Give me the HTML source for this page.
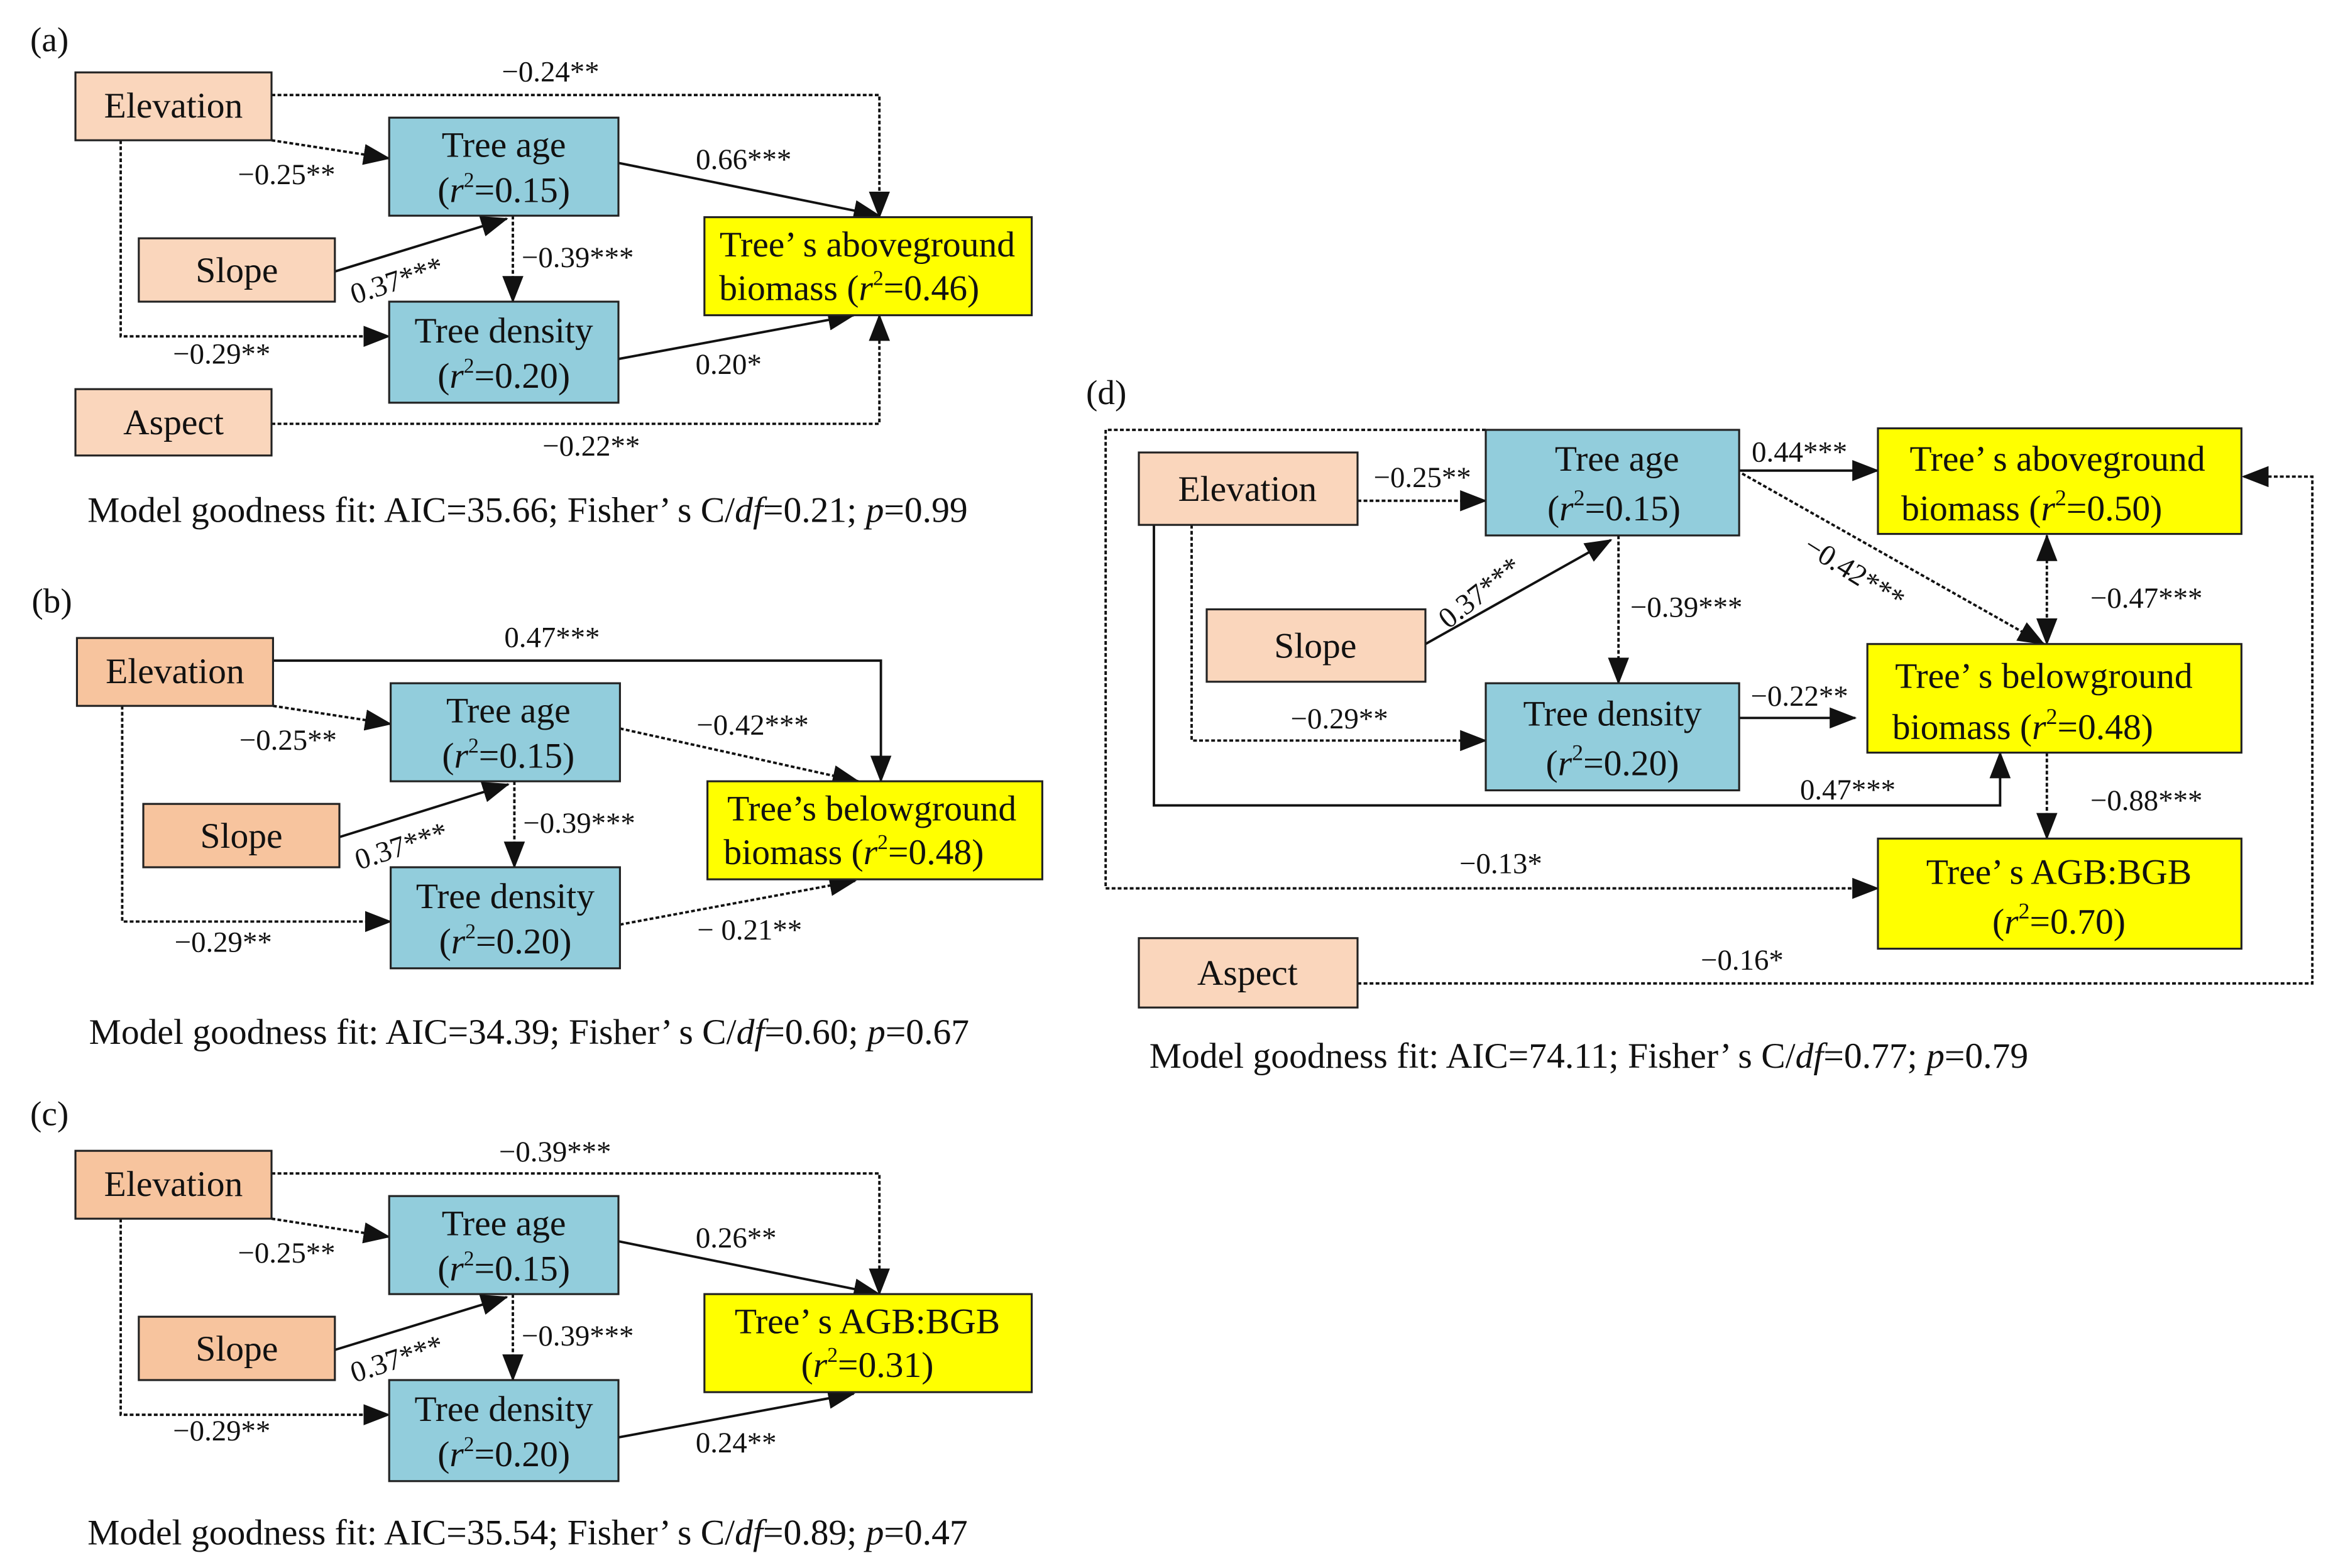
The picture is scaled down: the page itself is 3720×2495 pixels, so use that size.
<!DOCTYPE html>
<html><head><meta charset="utf-8"><style>
html,body{margin:0;padding:0;background:#fff;}
svg{display:block;}
text{font-family:"Liberation Serif",serif;fill:#111;}
.n{font-size:24px;text-anchor:middle;}
.l{font-size:19.5px;text-anchor:middle;}
.c{font-size:24px;}
.p{font-size:23px;}
.s{stroke:#111;stroke-width:1.6;fill:none;}
.d{stroke:#111;stroke-width:1.6;fill:none;stroke-dasharray:2.5 1.5;}
.b{stroke:#222;stroke-width:1.3;}
</style></head><body>
<svg width="3720" height="2495" viewBox="0 0 1550 1039.6" xmlns="http://www.w3.org/2000/svg">
<defs>
<marker id="a" markerUnits="userSpaceOnUse" markerWidth="18" markerHeight="14" refX="17" refY="7" orient="auto"><path d="M0,0 L18,7 L0,14 z" fill="#111"/></marker>
<marker id="s" markerUnits="userSpaceOnUse" markerWidth="18" markerHeight="14" refX="17" refY="7" orient="auto-start-reverse"><path d="M0,0 L18,7 L0,14 z" fill="#111"/></marker>
</defs>

<!-- Panel a -->
<text class="p" x="20" y="34">(a)</text>
<path class="d" d="M180,63 H583 V144" marker-end="url(#a)"/>
<path class="d" d="M180,93 L258,105" marker-end="url(#a)"/>
<path class="d" d="M80,93 V223 H258" marker-end="url(#a)"/>
<path class="s" d="M222,180 L336,145" marker-end="url(#a)"/>
<path class="d" d="M340,143 V200" marker-end="url(#a)"/>
<path class="s" d="M410,108 L583,143" marker-end="url(#a)"/>
<path class="s" d="M410,238 L566,209" marker-end="url(#a)"/>
<path class="d" d="M180,281 H583 V209" marker-end="url(#a)"/>
<rect class="b" x="50" y="48" width="130" height="45" fill="#fad6bc"/><text class="n" x="115" y="78">Elevation</text>
<rect class="b" x="258" y="78" width="152" height="65" fill="#92cddc"/><text class="n" x="334" y="104">Tree age</text><text class="n" x="334" y="134">(<tspan font-style="italic">r</tspan><tspan font-size="14" dy="-10">2</tspan><tspan dy="10">=0.15)</tspan></text>
<rect class="b" x="92" y="158" width="130" height="42" fill="#fad6bc"/><text class="n" x="157" y="187">Slope</text>
<rect class="b" x="258" y="200" width="152" height="67" fill="#92cddc"/><text class="n" x="334" y="227">Tree density</text><text class="n" x="334" y="257">(<tspan font-style="italic">r</tspan><tspan font-size="14" dy="-10">2</tspan><tspan dy="10">=0.20)</tspan></text>
<rect class="b" x="467" y="144" width="217" height="65" fill="#ffff00"/><text class="n" x="575" y="170">Tree’ s aboveground</text><text class="n" x="563" y="199">biomass (<tspan font-style="italic">r</tspan><tspan font-size="14" dy="-10">2</tspan><tspan dy="10">=0.46)</tspan></text>
<rect class="b" x="50" y="258" width="130" height="44" fill="#fad6bc"/><text class="n" x="115" y="288">Aspect</text>
<text class="l" x="365" y="54">−0.24**</text>
<text class="l" x="190" y="122">−0.25**</text>
<text class="l" x="493" y="112">0.66***</text>
<text class="l" transform="translate(265,192) rotate(-18)">0.37***</text>
<text class="l" x="383" y="177">−0.39***</text>
<text class="l" x="147" y="241">−0.29**</text>
<text class="l" x="483" y="248">0.20*</text>
<text class="l" x="392" y="302">−0.22**</text>
<text class="c" x="58" y="346">Model goodness fit: AIC=35.66; Fisher’ s C/<tspan font-style="italic">df</tspan>=0.21; <tspan font-style="italic">p</tspan>=0.99</text>

<!-- Panel b -->
<g transform="translate(1,375)">
<text class="p" x="20" y="31">(b)</text>
<path class="s" d="M180,63 H583 V143" marker-end="url(#a)"/>
<path class="d" d="M180,93 L258,105" marker-end="url(#a)"/>
<path class="d" d="M80,93 V236 H258" marker-end="url(#a)"/>
<path class="s" d="M224,180 L336,145" marker-end="url(#a)"/>
<path class="d" d="M340,143 V200" marker-end="url(#a)"/>
<path class="d" d="M410,108 L568,143" marker-end="url(#a)"/>
<path class="d" d="M410,238 L566,209" marker-end="url(#a)"/>
<rect class="b" x="50" y="48" width="130" height="45" fill="#f7c49e"/><text class="n" x="115" y="78">Elevation</text>
<rect class="b" x="258" y="78" width="152" height="65" fill="#92cddc"/><text class="n" x="336" y="104">Tree age</text><text class="n" x="336" y="134">(<tspan font-style="italic">r</tspan><tspan font-size="14" dy="-10">2</tspan><tspan dy="10">=0.15)</tspan></text>
<rect class="b" x="94" y="158" width="130" height="42" fill="#f7c49e"/><text class="n" x="159" y="187">Slope</text>
<rect class="b" x="258" y="200" width="152" height="67" fill="#92cddc"/><text class="n" x="334" y="227">Tree density</text><text class="n" x="334" y="257">(<tspan font-style="italic">r</tspan><tspan font-size="14" dy="-10">2</tspan><tspan dy="10">=0.20)</tspan></text>
<rect class="b" x="468" y="143" width="222" height="65" fill="#ffff00"/><text class="n" x="577" y="169">Tree’s belowground</text><text class="n" x="565" y="198">biomass (<tspan font-style="italic">r</tspan><tspan font-size="14" dy="-10">2</tspan><tspan dy="10">=0.48)</tspan></text>
<text class="l" x="365" y="54">0.47***</text>
<text class="l" x="190" y="122">−0.25**</text>
<text class="l" x="498" y="112">−0.42***</text>
<text class="l" transform="translate(267,192) rotate(-18)">0.37***</text>
<text class="l" x="383" y="177">−0.39***</text>
<text class="l" x="147" y="256">−0.29**</text>
<text class="l" x="496" y="248">− 0.21**</text>
<text class="c" x="58" y="317">Model goodness fit: AIC=34.39; Fisher’ s C/<tspan font-style="italic">df</tspan>=0.60; <tspan font-style="italic">p</tspan>=0.67</text>
</g>

<!-- Panel c -->
<g transform="translate(0,715)">
<text class="p" x="20" y="31">(c)</text>
<path class="d" d="M180,63 H583 V143" marker-end="url(#a)"/>
<path class="d" d="M180,93 L258,105" marker-end="url(#a)"/>
<path class="d" d="M80,93 V223 H258" marker-end="url(#a)"/>
<path class="s" d="M222,180 L336,145" marker-end="url(#a)"/>
<path class="d" d="M340,143 V200" marker-end="url(#a)"/>
<path class="s" d="M410,108 L583,143" marker-end="url(#a)"/>
<path class="s" d="M410,238 L566,209" marker-end="url(#a)"/>
<rect class="b" x="50" y="48" width="130" height="45" fill="#f7c49e"/><text class="n" x="115" y="78">Elevation</text>
<rect class="b" x="258" y="78" width="152" height="65" fill="#92cddc"/><text class="n" x="334" y="104">Tree age</text><text class="n" x="334" y="134">(<tspan font-style="italic">r</tspan><tspan font-size="14" dy="-10">2</tspan><tspan dy="10">=0.15)</tspan></text>
<rect class="b" x="92" y="158" width="130" height="42" fill="#f7c49e"/><text class="n" x="157" y="187">Slope</text>
<rect class="b" x="258" y="200" width="152" height="67" fill="#92cddc"/><text class="n" x="334" y="227">Tree density</text><text class="n" x="334" y="257">(<tspan font-style="italic">r</tspan><tspan font-size="14" dy="-10">2</tspan><tspan dy="10">=0.20)</tspan></text>
<rect class="b" x="467" y="143" width="217" height="65" fill="#ffff00"/><text class="n" x="575" y="169">Tree’ s AGB:BGB</text><text class="n" x="575" y="198">(<tspan font-style="italic">r</tspan><tspan font-size="14" dy="-10">2</tspan><tspan dy="10">=0.31)</tspan></text>
<text class="l" x="368" y="55">−0.39***</text>
<text class="l" x="190" y="122">−0.25**</text>
<text class="l" x="488" y="112">0.26**</text>
<text class="l" transform="translate(265,192) rotate(-18)">0.37***</text>
<text class="l" x="383" y="177">−0.39***</text>
<text class="l" x="147" y="240">−0.29**</text>
<text class="l" x="488" y="248">0.24**</text>
<text class="c" x="58" y="309">Model goodness fit: AIC=35.54; Fisher’ s C/<tspan font-style="italic">df</tspan>=0.89; <tspan font-style="italic">p</tspan>=0.47</text>
</g>

<!-- Panel d -->
<text class="p" x="720" y="268">(d)</text>
<path class="d" d="M985,285 H733 V589 H1245" marker-end="url(#a)"/>
<path class="d" d="M900,332 H985" marker-end="url(#a)"/>
<path class="d" d="M790,348 V491 H985" marker-end="url(#a)"/>
<path class="s" d="M765,348 V534 H1326 V499" marker-end="url(#a)"/>
<path class="s" d="M945,427 L1068,358" marker-end="url(#a)"/>
<path class="d" d="M1073,355 V453" marker-end="url(#a)"/>
<path class="s" d="M1153,312 H1245" marker-end="url(#a)"/>
<path class="d" d="M1155,314 L1355,427" marker-end="url(#a)"/>
<path class="d" d="M1357,355 V427" marker-start="url(#s)" marker-end="url(#a)"/>
<path class="s" d="M1153,476 H1230" marker-end="url(#a)"/>
<path class="d" d="M1357,499 V556" marker-end="url(#a)"/>
<path class="d" d="M900,652 H1533 V316 H1487" marker-end="url(#a)"/>
<rect class="b" x="755" y="300" width="145" height="48" fill="#fad6bc"/><text class="n" x="827" y="332">Elevation</text>
<rect class="b" x="985" y="285" width="168" height="70" fill="#92cddc"/><text class="n" x="1072" y="312">Tree age</text><text class="n" x="1070" y="345">(<tspan font-style="italic">r</tspan><tspan font-size="15" dy="-10">2</tspan><tspan dy="10">=0.15)</tspan></text>
<rect class="b" x="1245" y="284" width="241" height="70" fill="#ffff00"/><text class="n" x="1364" y="312">Tree’ s aboveground</text><text class="n" x="1347" y="345">biomass (<tspan font-style="italic">r</tspan><tspan font-size="15" dy="-10">2</tspan><tspan dy="10">=0.50)</tspan></text>
<rect class="b" x="800" y="404" width="145" height="48" fill="#fad6bc"/><text class="n" x="872" y="436">Slope</text>
<rect class="b" x="985" y="453" width="168" height="71" fill="#92cddc"/><text class="n" x="1069" y="481">Tree density</text><text class="n" x="1069" y="514">(<tspan font-style="italic">r</tspan><tspan font-size="15" dy="-10">2</tspan><tspan dy="10">=0.20)</tspan></text>
<rect class="b" x="1238" y="427" width="248" height="72" fill="#ffff00"/><text class="n" x="1355" y="456">Tree’ s belowground</text><text class="n" x="1341" y="490">biomass (<tspan font-style="italic">r</tspan><tspan font-size="15" dy="-10">2</tspan><tspan dy="10">=0.48)</tspan></text>
<rect class="b" x="1245" y="556" width="241" height="73" fill="#ffff00"/><text class="n" x="1365" y="586">Tree’ s AGB:BGB</text><text class="n" x="1365" y="619">(<tspan font-style="italic">r</tspan><tspan font-size="15" dy="-10">2</tspan><tspan dy="10">=0.70)</tspan></text>
<rect class="b" x="755" y="622" width="145" height="46" fill="#fad6bc"/><text class="n" x="827" y="653">Aspect</text>
<text class="l" x="943" y="323">−0.25**</text>
<text class="l" x="1193" y="306">0.44***</text>
<text class="l" transform="translate(1226,385) rotate(32)">−0.42***</text>
<text class="l" transform="translate(985,398) rotate(-38)">0.37***</text>
<text class="l" x="1118" y="409">−0.39***</text>
<text class="l" x="1423" y="403">−0.47***</text>
<text class="l" x="1193" y="468">−0.22**</text>
<text class="l" x="888" y="483">−0.29**</text>
<text class="l" x="1225" y="530">0.47***</text>
<text class="l" x="1423" y="537">−0.88***</text>
<text class="l" x="995" y="579">−0.13*</text>
<text class="l" x="1155" y="643">−0.16*</text>
<text class="c" x="762" y="708">Model goodness fit: AIC=74.11; Fisher’ s C/<tspan font-style="italic">df</tspan>=0.77; <tspan font-style="italic">p</tspan>=0.79</text>
</svg>
</body></html>
